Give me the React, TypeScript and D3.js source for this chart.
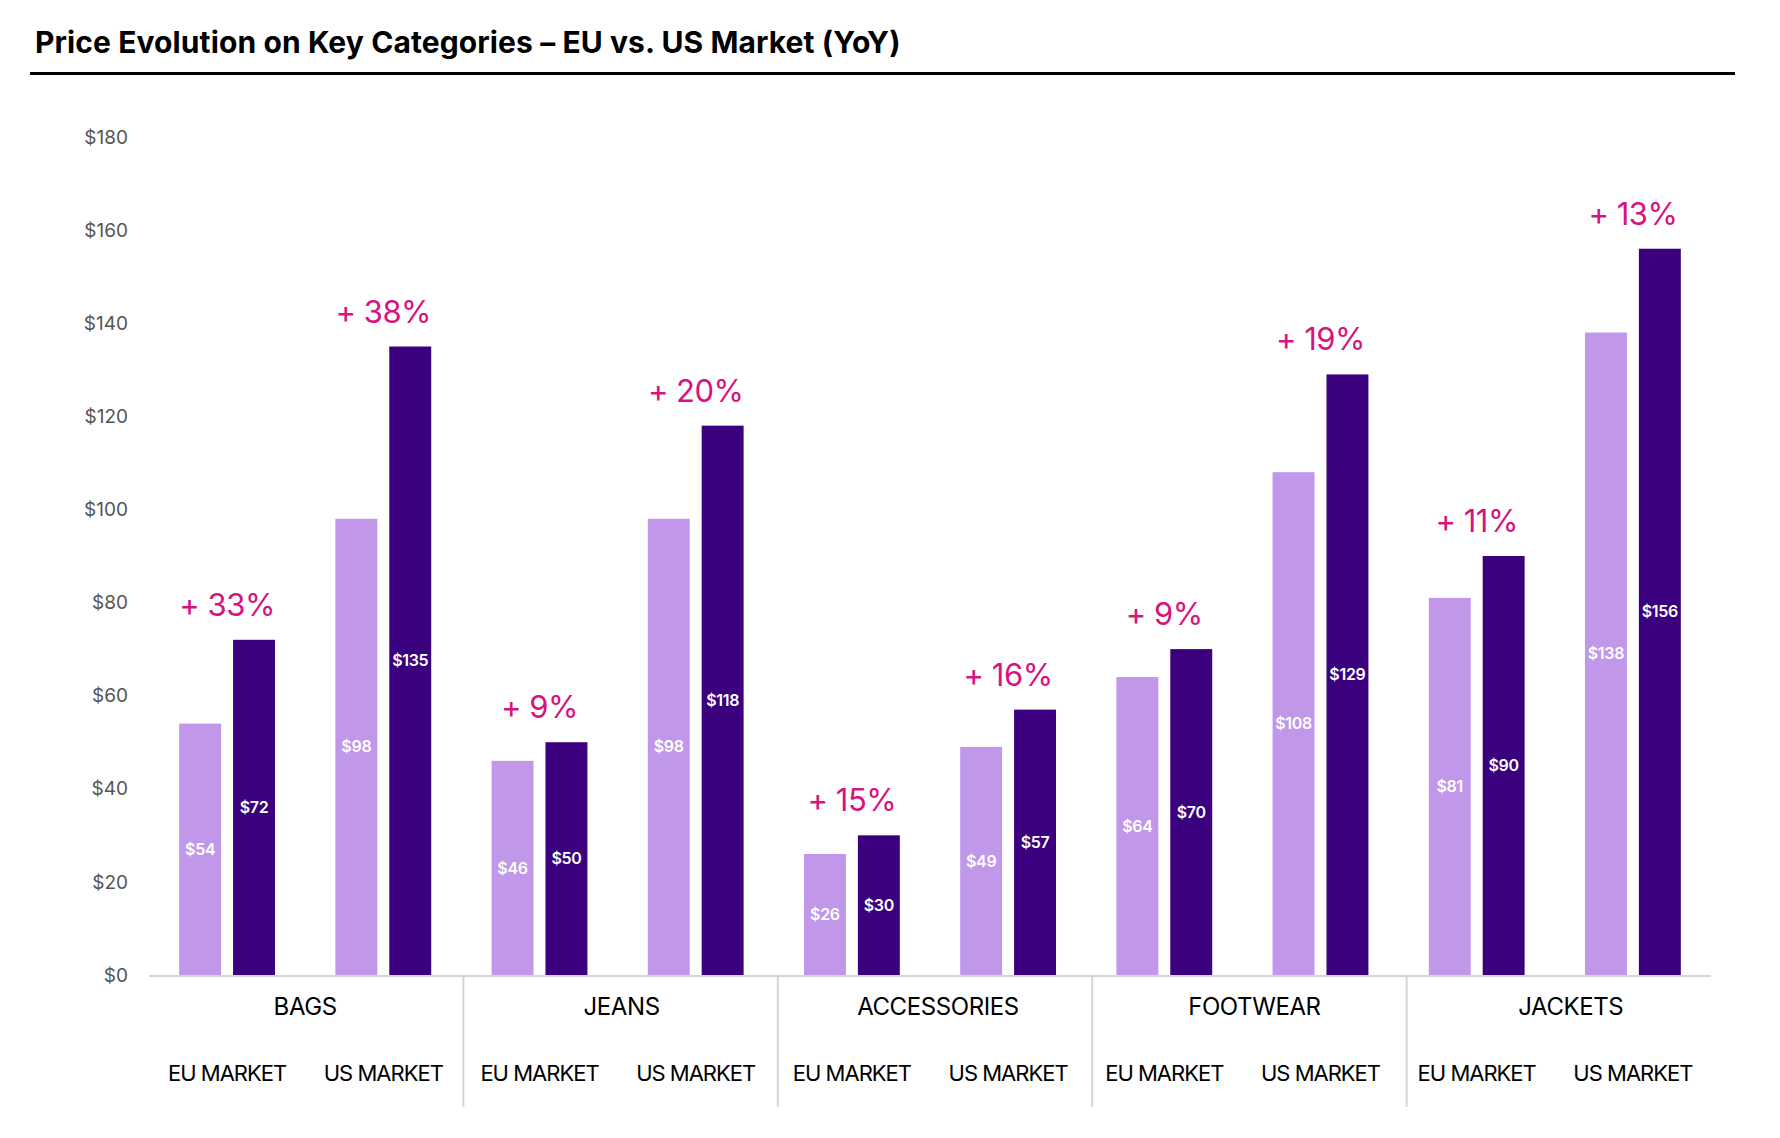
import * as d3 from "d3";

const categories = ["BAGS", "JEANS", "ACCESSORIES", "FOOTWEAR", "JACKETS"];
const markets = ["EU MARKET", "US MARKET"];
const series = ["prev", "curr"];

// [EU, US] per category
const prevValues = [
  [54, 98],
  [46, 98],
  [26, 49],
  [64, 108],
  [81, 138],
];
const currValues = [
  [72, 135],
  [50, 118],
  [30, 57],
  [70, 129],
  [90, 156],
];
const changeLabels = [
  ["+33%", "+38%"],
  ["+9%", "+20%"],
  ["+15%", "+16%"],
  ["+9%", "+19%"],
  ["+11%", "+13%"],
];
const yTicks = [0, 20, 40, 60, 80, 100, 120, 140, 160, 180];

const W = 1780;
const H = 1138;
const COLORS = { prev: "#C197EA", curr: "#3B007D", pink: "#D6137F", tick: "#555555", axis: "#D6D6D6" };
const FONT = "Inter, 'Noto Sans', sans-serif";

export default function App() {
  const x0 = d3.scaleBand<string>().domain(categories).range([149, 1711]);
  const x1 = d3.scaleBand<string>().domain(markets).range([0, x0.bandwidth()]);
  const x2 = d3
    .scaleBand<string>()
    .domain(series)
    .range([0, x1.bandwidth()])
    .paddingInner(0.222)
    .paddingOuter(0.56);
  const y = d3.scaleLinear().domain([0, 180]).range([975, 137]);

  const bars = categories.flatMap((c, ci) =>
    markets.flatMap((m, mi) =>
      series.map((s) => ({
        c,
        m,
        s,
        v: s === "prev" ? prevValues[ci][mi] : currValues[ci][mi],
      }))
    )
  );

  return (
    <svg width={W} height={H} style={{ position: "absolute", left: 0, top: 0, background: "#fff" }}>
      {/* title */}
      <text x={35} y={53} fontFamily={FONT} fontWeight={700} fontSize={30} fill="#000" letterSpacing={0.1}>
        Price Evolution on Key Categories – EU vs. US Market (YoY)
      </text>
      <line x1={30} x2={1735} y1={73.5} y2={73.5} stroke="#000" strokeWidth={3} />

      {/* y ticks */}
      {yTicks.map((t) => (
        <text
          key={t}
          x={128}
          y={y(t)}
          dy="0.35em"
          textAnchor="end"
          fontFamily={FONT}
          fontSize={19}
          fill={COLORS.tick}
        >
          {`$${t}`}
        </text>
      ))}

      {/* bars */}
      {bars.map((b, i) => {
        const bx = x0(b.c)! + x1(b.m)! + x2(b.s)!;
        const top = y(b.v);
        return (
          <g key={i}>
            <rect x={bx} y={top} width={x2.bandwidth()} height={y(0) - top} fill={COLORS[b.s as "prev" | "curr"]} />
            <text
              x={bx + x2.bandwidth() / 2}
              y={(top + y(0)) / 2}
              dy="0.35em"
              textAnchor="middle"
              fontFamily={FONT}
              fontWeight={600}
              fontSize={16}
              fill="#fff"
              letterSpacing={-0.3}
            >
              {`$${b.v}`}
            </text>
          </g>
        );
      })}

      {/* change labels */}
      {categories.map((c, ci) =>
        markets.map((m, mi) => {
          const cx = x0(c)! + x1(m)! + x1.bandwidth() / 2;
          const top = y(Math.max(prevValues[ci][mi], currValues[ci][mi]));
          const lbl = changeLabels[ci][mi];
          return (
            <text
              key={c + m}
              x={cx}
              y={top - 24}
              textAnchor="middle"
              fontFamily={FONT}
              fontWeight={400}
              fontSize={31}
              fill={COLORS.pink}
              letterSpacing={-0.5}
            >
              {lbl.replace("+", "+ ")}
            </text>
          );
        })
      )}

      {/* x axis */}
      <line x1={x0.range()[0]} x2={x0.range()[1]} y1={y(0) + 1} y2={y(0) + 1} stroke={COLORS.axis} strokeWidth={2} />
      {categories.slice(1).map((c, i) => (
        <line
          key={c}
          x1={x0(c)! + 2 * (i + 1)}
          x2={x0(c)! + 2 * (i + 1)}
          y1={y(0)}
          y2={1107}
          stroke={COLORS.axis}
          strokeWidth={2}
        />
      ))}
      {categories.map((c, i) => (
        <text
          key={c}
          x={x0(c)! + x0.bandwidth() / 2 + 4 * i}
          y={1015}
          textAnchor="middle"
          fontFamily={FONT}
          fontSize={24}
          fill="#000"
          letterSpacing={-0.4}
        >
          {c}
        </text>
      ))}
      {categories.map((c) =>
        markets.map((m) => (
          <text
            key={c + m}
            x={x0(c)! + x1(m)! + x1.bandwidth() / 2}
            y={1081}
            textAnchor="middle"
            fontFamily={FONT}
            fontSize={22}
            fill="#000"
            letterSpacing={-1}
          >
            {m}
          </text>
        ))
      )}
    </svg>
  );
}
